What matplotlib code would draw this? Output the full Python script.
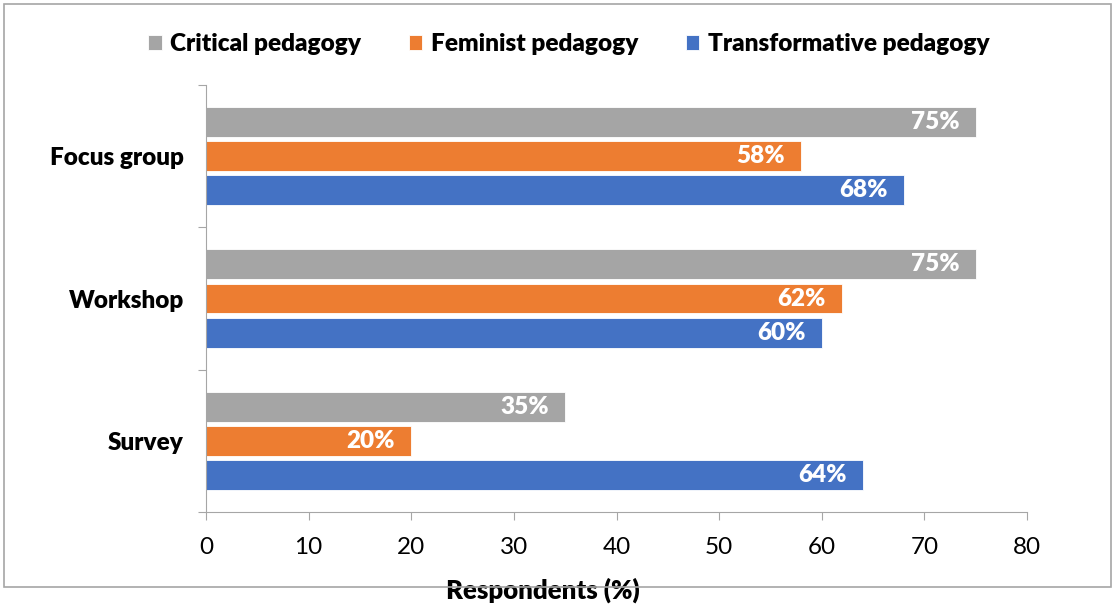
import matplotlib.pyplot as plt
import numpy as np
from matplotlib.patches import Rectangle

categories = ["Focus group", "Workshop", "Survey"]
series_names = ["Critical pedagogy", "Feminist pedagogy", "Transformative pedagogy"]
critical = [75, 75, 35]
feminist = [58, 62, 20]
transformative = [68, 60, 64]
colors = ["#A5A5A5", "#ED7D31", "#4472C4"]

plt.rcParams['font.family'] = ['Lato', 'DejaVu Sans']

fig = plt.figure(figsize=(11.15, 6.07), dpi=100)
ax = fig.add_axes([206 / 1115, 1 - 512 / 607, (1027 - 206) / 1115, (512 - 85) / 607])

# category slots, top to bottom
y = np.arange(len(categories))[::-1]
step = 0.24
height = 0.21
values = [critical, feminist, transformative]
for i, (name, vals, c) in enumerate(zip(series_names, values, colors)):
    pos = y + (1 - i) * step
    bars = ax.barh(pos, vals, height=height, color=c, label=name,
                   edgecolor="white", linewidth=0.6)
    for b, v in zip(bars, vals):
        ax.text(v - 1.6, b.get_y() + b.get_height() / 2, f"{v}%",
                ha="right", va="center", color="white",
                fontsize=17.5, fontweight="heavy")

ax.set_xlim(0, 80)
ax.set_ylim(-0.5, len(categories) - 0.5)
ax.set_xticks(range(0, 81, 10))
ax.set_yticks(np.arange(len(categories) + 1) - 0.5)
ax.set_yticklabels([])
ax.set_yticks(y, labels=categories, minor=True)
ax.tick_params(axis="y", which="minor", length=0, pad=16)
ax.tick_params(axis="y", which="major", length=6, color="#A6A6A6")
ax.tick_params(axis="x", length=6, color="#A6A6A6", labelsize=17.5, pad=12)
for lab in ax.get_yticklabels(minor=True):
    lab.set_fontweight("heavy")
    lab.set_fontsize(17.5)

for s in ["top", "right"]:
    ax.spines[s].set_visible(False)
for s in ["left", "bottom"]:
    ax.spines[s].set_color("#A6A6A6")

ax.set_xlabel("Respondents (%)", fontsize=18.5, fontweight="heavy",
              bbox=dict(facecolor="white", edgecolor="none", pad=6))
ax.xaxis.set_label_coords((543 - 206) / (1027 - 206), -(577 - 512) / (512 - 85))

leg = fig.legend(loc="center", bbox_to_anchor=(569 / 1115, 1 - 44 / 607), ncol=3,
                 frameon=False, fontsize=17.6, handlelength=0.55, handleheight=0.55,
                 handletextpad=0.35, columnspacing=1.95)
for t in leg.get_texts():
    t.set_fontweight("heavy")

# outer chart border
fig.patches.append(Rectangle((4 / 1115, 1 - 587 / 607), (1111 - 4) / 1115, (587 - 4) / 607,
                             transform=fig.transFigure, fill=False,
                             edgecolor="#A6A6A6", linewidth=1.2, zorder=0))

fig.savefig("out.png", dpi=100)
